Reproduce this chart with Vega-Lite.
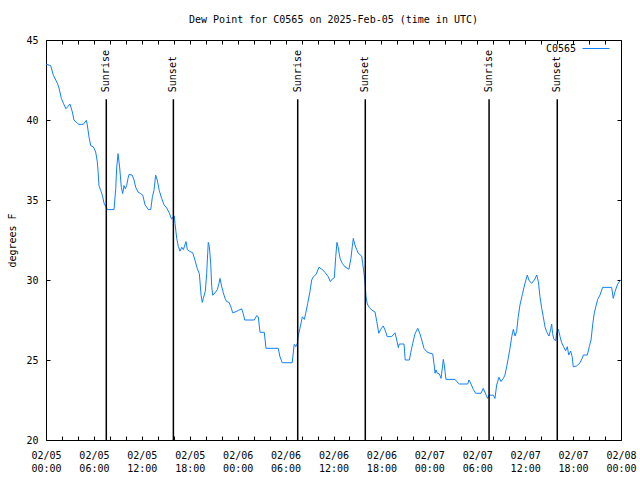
{
  "$schema": "https://vega.github.io/schema/vega-lite/v6.json",
  "width": 575,
  "height": 400,
  "autosize": "none",
  "padding": {"left": 46, "top": 40, "right": 19, "bottom": 40},
  "background": "white",
  "config": {
    "view": {"stroke": "black", "strokeWidth": 1},
    "font": "DejaVu Sans Mono",
    "axis": {
      "labelFont": "DejaVu Sans Mono",
      "labelFontSize": 10,
      "labelColor": "black",
      "titleFont": "DejaVu Sans Mono",
      "titleFontSize": 10,
      "titleFontWeight": "normal",
      "titleColor": "black",
      "domain": false,
      "grid": false,
      "tickColor": "black"
    }
  },
  "title": {
    "text": "Dew Point for C0565 on 2025-Feb-05 (time in UTC)",
    "font": "DejaVu Sans Mono",
    "fontSize": 10,
    "fontWeight": "normal",
    "color": "black",
    "offset": 10
  },
  "datasets": {
    "dew": [
      {"hour": 0, "v": 43.5}, {"hour": 0.25, "v": 43.45}, {"hour": 0.58, "v": 43.4}, {"hour": 0.92, "v": 42.8},
      {"hour": 1.42, "v": 42.3}, {"hour": 1.63, "v": 42.0}, {"hour": 1.92, "v": 41.35}, {"hour": 2.17, "v": 41.05},
      {"hour": 2.5, "v": 40.7}, {"hour": 2.67, "v": 40.8}, {"hour": 3, "v": 41.0}, {"hour": 3.3, "v": 40.5},
      {"hour": 3.5, "v": 40.0}, {"hour": 3.92, "v": 39.8}, {"hour": 4.13, "v": 39.73}, {"hour": 4.67, "v": 39.73},
      {"hour": 5.05, "v": 39.98}, {"hour": 5.17, "v": 39.7}, {"hour": 5.38, "v": 38.95}, {"hour": 5.6, "v": 38.4},
      {"hour": 5.92, "v": 38.33}, {"hour": 6.22, "v": 38.0}, {"hour": 6.42, "v": 37.4}, {"hour": 6.52, "v": 36.8},
      {"hour": 6.63, "v": 35.9}, {"hour": 6.85, "v": 35.6}, {"hour": 7.05, "v": 35.3}, {"hour": 7.27, "v": 34.8},
      {"hour": 7.48, "v": 34.6}, {"hour": 7.68, "v": 34.4}, {"hour": 8.52, "v": 34.4}, {"hour": 8.63, "v": 35.1},
      {"hour": 8.73, "v": 35.7}, {"hour": 8.85, "v": 37.0}, {"hour": 9.02, "v": 37.9}, {"hour": 9.23, "v": 37.0},
      {"hour": 9.43, "v": 35.8}, {"hour": 9.6, "v": 35.4}, {"hour": 9.77, "v": 35.9}, {"hour": 9.93, "v": 35.7},
      {"hour": 10.1, "v": 35.9}, {"hour": 10.27, "v": 36.35}, {"hour": 10.4, "v": 36.6}, {"hour": 10.8, "v": 36.55},
      {"hour": 11.02, "v": 36.25}, {"hour": 11.23, "v": 35.8}, {"hour": 11.52, "v": 35.5}, {"hour": 11.85, "v": 35.4},
      {"hour": 12.12, "v": 35.3}, {"hour": 12.4, "v": 34.7}, {"hour": 12.82, "v": 34.4}, {"hour": 13.12, "v": 34.4},
      {"hour": 13.32, "v": 35.2}, {"hour": 13.52, "v": 35.6}, {"hour": 13.73, "v": 36.55}, {"hour": 13.93, "v": 36.25},
      {"hour": 14.18, "v": 35.6}, {"hour": 14.48, "v": 35.1}, {"hour": 14.78, "v": 34.7}, {"hour": 15.12, "v": 34.5},
      {"hour": 15.43, "v": 34.2}, {"hour": 15.73, "v": 33.8}, {"hour": 15.93, "v": 33.95}, {"hour": 16.07, "v": 34.0},
      {"hour": 16.15, "v": 33.55}, {"hour": 16.37, "v": 32.6}, {"hour": 16.57, "v": 32.1}, {"hour": 16.78, "v": 31.8},
      {"hour": 17, "v": 32.05}, {"hour": 17.2, "v": 31.9}, {"hour": 17.53, "v": 32.4}, {"hour": 17.7, "v": 31.9},
      {"hour": 17.95, "v": 31.8}, {"hour": 18.37, "v": 31.7}, {"hour": 18.65, "v": 31.25}, {"hour": 18.95, "v": 30.7},
      {"hour": 19.2, "v": 30.4}, {"hour": 19.42, "v": 29.05}, {"hour": 19.57, "v": 28.6}, {"hour": 19.7, "v": 28.85},
      {"hour": 19.95, "v": 29.3}, {"hour": 20.12, "v": 30.4}, {"hour": 20.25, "v": 31.7}, {"hour": 20.32, "v": 32.35},
      {"hour": 20.45, "v": 32.1}, {"hour": 20.62, "v": 31.05}, {"hour": 20.75, "v": 29.6}, {"hour": 20.87, "v": 29.05},
      {"hour": 21.17, "v": 29.2}, {"hour": 21.45, "v": 29.4}, {"hour": 21.67, "v": 29.8}, {"hour": 21.78, "v": 30.1},
      {"hour": 22, "v": 29.6}, {"hour": 22.2, "v": 29.2}, {"hour": 22.42, "v": 28.85}, {"hour": 22.63, "v": 28.65},
      {"hour": 22.92, "v": 28.6}, {"hour": 23.13, "v": 28.35}, {"hour": 23.38, "v": 27.95}, {"hour": 23.67, "v": 28.0},
      {"hour": 24.08, "v": 28.1}, {"hour": 24.5, "v": 28.2}, {"hour": 24.7, "v": 27.9}, {"hour": 24.88, "v": 27.5},
      {"hour": 26.08, "v": 27.5}, {"hour": 26.38, "v": 27.77}, {"hour": 26.58, "v": 27.7}, {"hour": 26.8, "v": 26.73},
      {"hour": 27.33, "v": 26.73}, {"hour": 27.55, "v": 25.73}, {"hour": 29.08, "v": 25.73}, {"hour": 29.3, "v": 25.2},
      {"hour": 29.58, "v": 24.83}, {"hour": 30.83, "v": 24.83}, {"hour": 31.08, "v": 25.98}, {"hour": 31.27, "v": 25.83},
      {"hour": 31.47, "v": 26.04}, {"hour": 31.6, "v": 26.56}, {"hour": 31.8, "v": 26.98}, {"hour": 32.1, "v": 27.7},
      {"hour": 32.35, "v": 27.54}, {"hour": 32.52, "v": 27.92}, {"hour": 32.77, "v": 28.54}, {"hour": 33.05, "v": 29.27},
      {"hour": 33.27, "v": 30.0}, {"hour": 33.47, "v": 30.2}, {"hour": 33.82, "v": 30.35}, {"hour": 34.18, "v": 30.79},
      {"hour": 34.52, "v": 30.69}, {"hour": 34.93, "v": 30.48}, {"hour": 35.35, "v": 30.2}, {"hour": 35.6, "v": 29.9},
      {"hour": 35.85, "v": 30.06}, {"hour": 36.1, "v": 30.14}, {"hour": 36.28, "v": 31.46}, {"hour": 36.43, "v": 32.35},
      {"hour": 36.57, "v": 32.08}, {"hour": 36.82, "v": 31.35}, {"hour": 37.1, "v": 31.04}, {"hour": 37.43, "v": 30.83},
      {"hour": 37.93, "v": 30.67}, {"hour": 38.18, "v": 31.35}, {"hour": 38.35, "v": 32.08}, {"hour": 38.48, "v": 32.6},
      {"hour": 38.68, "v": 32.19}, {"hour": 38.9, "v": 31.9}, {"hour": 39.1, "v": 31.67}, {"hour": 39.53, "v": 31.5},
      {"hour": 39.65, "v": 31.04}, {"hour": 39.82, "v": 30.42}, {"hour": 39.95, "v": 29.8}, {"hour": 40.07, "v": 28.96},
      {"hour": 40.23, "v": 28.5}, {"hour": 40.48, "v": 28.29}, {"hour": 40.78, "v": 28.13}, {"hour": 41.2, "v": 28.0},
      {"hour": 41.42, "v": 27.4}, {"hour": 41.67, "v": 26.67}, {"hour": 41.92, "v": 26.92}, {"hour": 42.23, "v": 27.13},
      {"hour": 42.45, "v": 26.88}, {"hour": 42.73, "v": 26.46}, {"hour": 43.28, "v": 26.46}, {"hour": 43.7, "v": 26.7},
      {"hour": 43.92, "v": 26.25}, {"hour": 44.12, "v": 25.77}, {"hour": 44.23, "v": 26.0}, {"hour": 44.83, "v": 26.0},
      {"hour": 44.98, "v": 25.0}, {"hour": 45.5, "v": 25.0}, {"hour": 45.67, "v": 25.46}, {"hour": 45.92, "v": 26.04},
      {"hour": 46.2, "v": 26.63}, {"hour": 46.55, "v": 26.98}, {"hour": 46.83, "v": 26.63}, {"hour": 47.05, "v": 26.25},
      {"hour": 47.33, "v": 25.73}, {"hour": 47.67, "v": 25.52}, {"hour": 48.08, "v": 25.42}, {"hour": 48.42, "v": 25.38},
      {"hour": 48.58, "v": 24.79}, {"hour": 48.72, "v": 24.17}, {"hour": 48.83, "v": 24.38}, {"hour": 49, "v": 24.17},
      {"hour": 49.25, "v": 24.13}, {"hour": 49.47, "v": 23.85}, {"hour": 49.67, "v": 24.69}, {"hour": 49.75, "v": 25.04},
      {"hour": 49.87, "v": 24.69}, {"hour": 50.08, "v": 23.79}, {"hour": 51.22, "v": 23.79}, {"hour": 51.43, "v": 23.65},
      {"hour": 51.75, "v": 23.5}, {"hour": 52.8, "v": 23.5}, {"hour": 52.97, "v": 23.75}, {"hour": 53.22, "v": 23.5},
      {"hour": 53.5, "v": 23.17}, {"hour": 53.8, "v": 22.92}, {"hour": 54.47, "v": 22.92}, {"hour": 54.75, "v": 23.23},
      {"hour": 55.05, "v": 22.88}, {"hour": 55.3, "v": 22.6}, {"hour": 55.47, "v": 22.8}, {"hour": 56.02, "v": 22.8},
      {"hour": 56.22, "v": 22.6}, {"hour": 56.43, "v": 23.44}, {"hour": 56.72, "v": 23.92}, {"hour": 56.97, "v": 23.65},
      {"hour": 57.27, "v": 23.85}, {"hour": 57.47, "v": 24.06}, {"hour": 57.68, "v": 24.58}, {"hour": 57.88, "v": 25.1},
      {"hour": 58.1, "v": 25.73}, {"hour": 58.32, "v": 26.46}, {"hour": 58.52, "v": 26.92}, {"hour": 58.73, "v": 26.5},
      {"hour": 58.93, "v": 26.77}, {"hour": 59.13, "v": 27.7}, {"hour": 59.35, "v": 28.44}, {"hour": 59.68, "v": 29.17},
      {"hour": 59.98, "v": 29.8}, {"hour": 60.27, "v": 30.31}, {"hour": 60.48, "v": 29.96}, {"hour": 60.82, "v": 29.8},
      {"hour": 61.15, "v": 30.0}, {"hour": 61.45, "v": 30.31}, {"hour": 61.65, "v": 29.9}, {"hour": 61.85, "v": 28.96},
      {"hour": 62.07, "v": 28.23}, {"hour": 62.27, "v": 27.7}, {"hour": 62.48, "v": 27.08}, {"hour": 62.68, "v": 26.77},
      {"hour": 62.98, "v": 26.5}, {"hour": 63.18, "v": 26.88}, {"hour": 63.32, "v": 27.25}, {"hour": 63.43, "v": 26.67},
      {"hour": 63.6, "v": 26.29}, {"hour": 63.82, "v": 26.21}, {"hour": 63.95, "v": 26.71}, {"hour": 64.15, "v": 26.92},
      {"hour": 64.37, "v": 26.46}, {"hour": 64.57, "v": 26.08}, {"hour": 64.87, "v": 25.77}, {"hour": 65.07, "v": 25.58},
      {"hour": 65.28, "v": 25.83}, {"hour": 65.45, "v": 25.31}, {"hour": 65.7, "v": 25.56}, {"hour": 65.9, "v": 25.17},
      {"hour": 66.02, "v": 24.58}, {"hour": 66.45, "v": 24.63}, {"hour": 66.87, "v": 24.83}, {"hour": 67.2, "v": 25.17},
      {"hour": 67.28, "v": 25.31}, {"hour": 67.78, "v": 25.31}, {"hour": 68.03, "v": 25.83}, {"hour": 68.25, "v": 26.25},
      {"hour": 68.45, "v": 27.19}, {"hour": 68.65, "v": 27.92}, {"hour": 68.87, "v": 28.38}, {"hour": 69.08, "v": 28.79},
      {"hour": 69.37, "v": 29.06}, {"hour": 69.7, "v": 29.54}, {"hour": 70.83, "v": 29.54}, {"hour": 71.03, "v": 28.85},
      {"hour": 71.25, "v": 29.27}, {"hour": 71.53, "v": 29.69}, {"hour": 71.87, "v": 29.96}, {"hour": 72, "v": 30.0}
    ],
    "sun": [
      {"hour": 7.55, "label": "Sunrise"},
      {"hour": 15.95, "label": "Sunset"},
      {"hour": 31.52, "label": "Sunrise"},
      {"hour": 39.98, "label": "Sunset"},
      {"hour": 55.48, "label": "Sunrise"},
      {"hour": 64.02, "label": "Sunset"}
    ]
  },
  "layer": [
    {
      "data": {"name": "dew"},
      "mark": {"type": "line", "strokeWidth": 1, "clip": true},
      "encoding": {
        "x": {
          "field": "hour",
          "type": "quantitative",
          "scale": {"domain": [0, 72], "nice": false, "zero": false},
          "axis": {
            "orient": "bottom",
            "title": null,
            "values": [0, 2, 4, 6, 8, 10, 12, 14, 16, 18, 20, 22, 24, 26, 28, 30, 32, 34, 36, 38, 40, 42, 44, 46, 48, 50, 52, 54, 56, 58, 60, 62, 64, 66, 68, 70, 72],
            "tickCount": 100,
            "labelExpr": "datum.value % 6 == 0 ? ['02/0' + (5 + floor(datum.value / 24)), (datum.value % 24 < 10 ? '0' : '') + (datum.value % 24) + ':00'] : ''",
            "tickSize": -4,
            "labelPadding": 14,
            "labelLineHeight": 13,
            "labelBaseline": "top",
            "labelFlush": false,
            "labelOverlap": false
          }
        },
        "y": {
          "field": "v",
          "type": "quantitative",
          "scale": {"domain": [20, 45], "nice": false, "zero": false},
          "axis": {
            "orient": "left",
            "title": "degrees F",
            "values": [20, 25, 30, 35, 40, 45],
            "tickCount": 100,
            "format": ".0f",
            "tickSize": -4,
            "labelPadding": 12,
            "titlePadding": 8
          }
        },
        "color": {
          "datum": "C0565",
          "type": "nominal",
          "scale": {"range": ["#1080ff"]},
          "legend": {
            "orient": "none",
            "legendX": 536,
            "legendY": -5.5,
            "title": null,
            "padding": 0,
            "symbolType": "stroke",
            "symbolStrokeWidth": 1,
            "symbolSize": 729,
            "symbolOffset": 0,
            "labelAlign": "right",
            "labelOffset": -34,
            "labelFont": "DejaVu Sans Mono",
            "labelFontSize": 10,
            "labelColor": "black"
          }
        }
      }
    },
    {
      "data": {"name": "sun"},
      "mark": {"type": "rule", "color": "black", "strokeWidth": 1.5},
      "encoding": {
        "x": {
          "field": "hour",
          "type": "quantitative",
          "axis": {
            "orient": "top",
            "title": null,
            "labels": false,
            "values": [0, 2, 4, 6, 8, 10, 12, 14, 16, 18, 20, 22, 24, 26, 28, 30, 32, 34, 36, 38, 40, 42, 44, 46, 48, 50, 52, 54, 56, 58, 60, 62, 64, 66, 68, 70, 72],
            "tickCount": 100,
            "tickSize": -4
          }
        },
        "y": {
          "datum": 20,
          "type": "quantitative",
          "axis": {
            "orient": "right",
            "title": null,
            "labels": false,
            "values": [20, 25, 30, 35, 40, 45],
            "tickCount": 100,
            "tickSize": -4
          }
        },
        "y2": {"datum": 41.3}
      }
    },
    {
      "data": {"name": "sun"},
      "mark": {
        "type": "text",
        "angle": 270,
        "align": "left",
        "baseline": "middle",
        "dx": 7,
        "font": "DejaVu Sans Mono",
        "fontSize": 10,
        "color": "black"
      },
      "encoding": {
        "x": {"field": "hour", "type": "quantitative", "axis": null},
        "y": {"datum": 41.3, "type": "quantitative", "axis": null},
        "text": {"field": "label"}
      }
    }
  ],
  "resolve": {"axis": {"x": "independent", "y": "independent"}}
}
